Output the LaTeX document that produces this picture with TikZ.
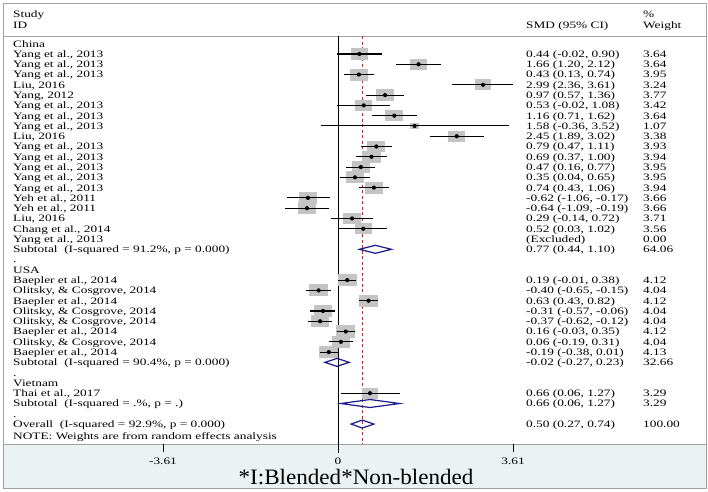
\documentclass[tikz,border=0pt]{standalone}
\usepackage{fontspec}
\setmainfont{Liberation Serif}
\newfontfamily\widefont[FakeStretch=1.36]{Liberation Serif}
\newfontfamily\bigfont[FakeStretch=1.05]{Liberation Serif}
\definecolor{boxg}{HTML}{C4C4C4}
\definecolor{navy}{HTML}{1A1A8C}
\definecolor{refred}{HTML}{A03838}
\definecolor{panel}{HTML}{EAF2F3}
\definecolor{frame}{HTML}{A0A0A0}
\newcommand\RY[1]{43.7+10.28*#1}
\newcommand\fprow[8]{%
  \pgfmathsetmacro\yy{\RY{#1}}%
  \pgfmathsetmacro\hw{4.6*sqrt(#5)}%
  \pgfmathsetmacro\hh{3.0*sqrt(#5)}%
  \pgfmathsetmacro\xe{338+48.5*#2}%
  \fill[boxg] (\xe-\hw,\yy-\hh) rectangle (\xe+\hw,\yy+\hh);
  \draw[ci] ({338+48.5*#3},\yy) -- ({338+48.5*#4},\yy);
  \fill (\xe,\yy) circle (2.1);
  \node[lab] at (13,\yy+3.4) {#6};
  \node[lab] at (526,\yy+3.4) {#7};
  \node[lab] at (643,\yy+3.4) {#8};}
\newcommand\fpsub[7]{%
  \pgfmathsetmacro\yy{\RY{#1}}%
  \draw[navy,line width=1.2pt] ({338+48.5*#3},\yy) -- ({338+48.5*#2},\yy-4) -- ({338+48.5*#4},\yy) -- ({338+48.5*#2},\yy+4) -- cycle;
  \node[lab] at (13,\yy+3.4) {#5};
  \node[lab] at (526,\yy+3.4) {#6};
  \node[lab] at (643,\yy+3.4) {#7};}
\newcommand\fptxt[2]{\pgfmathsetmacro\yy{\RY{#1}}\node[lab] at (13,\yy+3.4) {#2};}
\begin{document}
\begin{tikzpicture}[x=1pt,y=-1pt,
  lab/.style={anchor=base west,inner sep=0pt,font=\widefont\fontsize{9.8}{10}\selectfont},
  tick/.style={font=\widefont\fontsize{9.8}{10}\selectfont},
  ci/.style={line width=1.1pt}]
\useasboundingbox (0,0) rectangle (708,491);
\fill[panel] (3,444) rectangle (706,488);
\draw[frame,line width=0.8pt] (3,3) rectangle (706,488);
\draw[frame,line width=0.6pt] (3,36) -- (706,36);
\draw[frame,line width=0.6pt] (3,444) -- (706,444);
\node[lab] (h1) at (13,17.4) {Study};
\node[lab] (h2) at (13,28.4) {ID};
\node[lab] (h3) at (526,28.4) {SMD (95\% CI)};
\node[lab] (h4) at (643,17.4) {\%};
\node[lab] (h5) at (643,28.4) {Weight};
\draw[line width=1pt] (338,36) -- (338,453);
\draw[refred,dashed,line width=1.1pt,dash pattern=on 3pt off 2.5pt] (362.3,36) -- (362.3,444);
\fptxt{0}{China}
\fprow{1}{0.44}{-0.02}{0.90}{3.64}{Yang et al., 2013}{0.44 (-0.02, 0.90)}{3.64}
\fprow{2}{1.66}{1.20}{2.12}{3.64}{Yang et al., 2013}{1.66 (1.20, 2.12)}{3.64}
\fprow{3}{0.43}{0.13}{0.74}{3.95}{Yang et al., 2013}{0.43 (0.13, 0.74)}{3.95}
\fprow{4}{2.99}{2.36}{3.61}{3.24}{Liu, 2016}{2.99 (2.36, 3.61)}{3.24}
\fprow{5}{0.97}{0.57}{1.36}{3.77}{Yang, 2012}{0.97 (0.57, 1.36)}{3.77}
\fprow{6}{0.53}{-0.02}{1.08}{3.42}{Yang et al., 2013}{0.53 (-0.02, 1.08)}{3.42}
\fprow{7}{1.16}{0.71}{1.62}{3.64}{Yang et al., 2013}{1.16 (0.71, 1.62)}{3.64}
\fprow{8}{1.58}{-0.36}{3.52}{1.07}{Yang et al., 2013}{1.58 (-0.36, 3.52)}{1.07}
\fprow{9}{2.45}{1.89}{3.02}{3.38}{Liu, 2016}{2.45 (1.89, 3.02)}{3.38}
\fprow{10}{0.79}{0.47}{1.11}{3.93}{Yang et al., 2013}{0.79 (0.47, 1.11)}{3.93}
\fprow{11}{0.69}{0.37}{1.00}{3.94}{Yang et al., 2013}{0.69 (0.37, 1.00)}{3.94}
\fprow{12}{0.47}{0.16}{0.77}{3.95}{Yang et al., 2013}{0.47 (0.16, 0.77)}{3.95}
\fprow{13}{0.35}{0.04}{0.65}{3.95}{Yang et al., 2013}{0.35 (0.04, 0.65)}{3.95}
\fprow{14}{0.74}{0.43}{1.06}{3.94}{Yang et al., 2013}{0.74 (0.43, 1.06)}{3.94}
\fprow{15}{-0.62}{-1.06}{-0.17}{3.66}{Yeh et al., 2011}{-0.62 (-1.06, -0.17)}{3.66}
\fprow{16}{-0.64}{-1.09}{-0.19}{3.66}{Yeh et al., 2011}{-0.64 (-1.09, -0.19)}{3.66}
\fprow{17}{0.29}{-0.14}{0.72}{3.71}{Liu, 2016}{0.29 (-0.14, 0.72)}{3.71}
\fprow{18}{0.52}{0.03}{1.02}{3.56}{Chang et al., 2014}{0.52 (0.03, 1.02)}{3.56}
\pgfmathsetmacro\yy{\RY{19}}
\node[lab] at (13,\yy+3.4) {Yang et al., 2013};
\node[lab] at (526,\yy+3.4) {(Excluded)};
\node[lab] at (643,\yy+3.4) {0.00};
\fpsub{20}{0.77}{0.44}{1.10}{Subtotal\ \ (I-squared = 91.2\%, p = 0.000)}{0.77 (0.44, 1.10)}{64.06}
\fptxt{21}{.}
\fptxt{22}{USA}
\fprow{23}{0.19}{-0.01}{0.38}{4.12}{Baepler et al., 2014}{0.19 (-0.01, 0.38)}{4.12}
\fprow{24}{-0.40}{-0.65}{-0.15}{4.04}{Olitsky, \& Cosgrove, 2014}{-0.40 (-0.65, -0.15)}{4.04}
\fprow{25}{0.63}{0.43}{0.82}{4.12}{Baepler et al., 2014}{0.63 (0.43, 0.82)}{4.12}
\fprow{26}{-0.31}{-0.57}{-0.06}{4.04}{Olitsky, \& Cosgrove, 2014}{-0.31 (-0.57, -0.06)}{4.04}
\fprow{27}{-0.37}{-0.62}{-0.12}{4.04}{Olitsky, \& Cosgrove, 2014}{-0.37 (-0.62, -0.12)}{4.04}
\fprow{28}{0.16}{-0.03}{0.35}{4.12}{Baepler et al., 2014}{0.16 (-0.03, 0.35)}{4.12}
\fprow{29}{0.06}{-0.19}{0.31}{4.04}{Olitsky, \& Cosgrove, 2014}{0.06 (-0.19, 0.31)}{4.04}
\fprow{30}{-0.19}{-0.38}{0.01}{4.13}{Baepler et al., 2014}{-0.19 (-0.38, 0.01)}{4.13}
\fpsub{31}{-0.02}{-0.27}{0.23}{Subtotal\ \ (I-squared = 90.4\%, p = 0.000)}{-0.02 (-0.27, 0.23)}{32.66}
\fptxt{32}{.}
\fptxt{33}{Vietnam}
\fprow{34}{0.66}{0.06}{1.27}{3.29}{Thai et al., 2017}{0.66 (0.06, 1.27)}{3.29}
\fpsub{35}{0.66}{0.06}{1.27}{Subtotal\ \ (I-squared = .\%, p = .)}{0.66 (0.06, 1.27)}{3.29}
\fptxt{36}{.}
\fpsub{37}{0.50}{0.27}{0.74}{Overall\ \ (I-squared = 92.9\%, p = 0.000)}{0.50 (0.27, 0.74)}{100.00}
\node[lab] (note) at (13,439.4) {NOTE: Weights are from random effects analysis};
\draw[line width=1pt] (163,444) -- (163,452) (513,444) -- (513,452);
\node[tick] (t1) at (163,461) {-3.61};
\node[tick] (t2) at (338,461) {0};
\node[tick] (t3) at (513,461) {3.61};
\node[font=\bigfont\fontsize{22}{23}\selectfont] (xl) at (356,477.5) {*I:Blended*Non-blended};
\end{tikzpicture}
\end{document}
